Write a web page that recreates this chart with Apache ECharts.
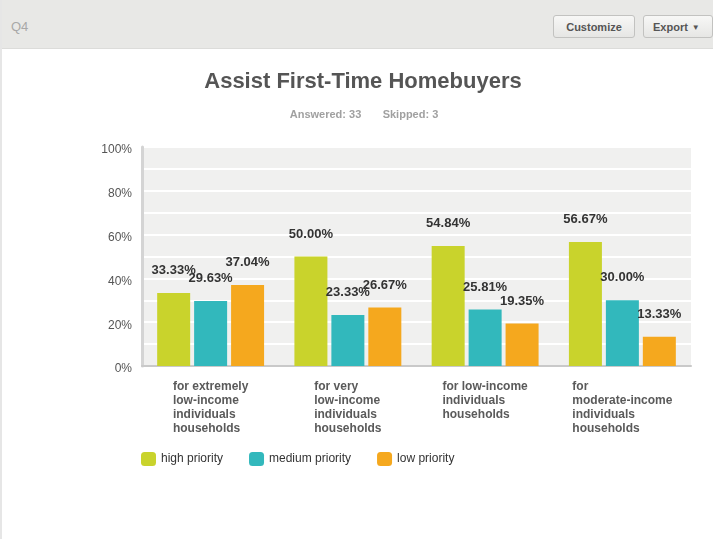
<!DOCTYPE html>
<html>
<head>
<meta charset="utf-8">
<title>Assist First-Time Homebuyers</title>
<script src="https://cdn.jsdelivr.net/npm/echarts@6/dist/echarts.min.js"></script>
<style>
  html, body { margin: 0; padding: 0; background: #fff; }
  .page {
    position: relative;
    width: 713px;
    height: 539px;
    overflow: hidden;
    font-family: Arial, "Liberation Sans", Helvetica, sans-serif;
    box-sizing: border-box;
    border-left: 2px solid #e6e6e6;
  }
  .q-header {
    position: absolute;
    left: 0; top: 0; right: 0;
    height: 48px;
    background: #e8e8e6;
    border-bottom: 1px solid #dcdcda;
  }
  .q-num {
    position: absolute;
    left: 9px; top: 19px;
    font-size: 13px;
    color: #a8a8a8;
  }
  .btn {
    position: absolute;
    top: 15px;
    height: 23px;
    line-height: 22px;
    box-sizing: border-box;
    border: 1px solid #c2c2c0;
    border-radius: 3px;
    background: linear-gradient(#f7f7f6, #e6e6e4);
    font-size: 11px;
    font-weight: bold;
    color: #555;
    text-align: center;
  }
  .btn-customize { left: 551px; width: 82px; }
  .btn-export { left: 641px; width: 70px; text-align: left; padding-left: 9px; }
  .caret { font-size: 8px; margin-left: 4px; position: relative; top: -1px; }
  .chart-content {
    position: absolute;
    left: 0; top: 48px;
    width: 711px;
    height: 491px;
  }
</style>
</head>
<body>
<div class="page">
  <div class="q-header">
    <div class="q-num">Q4</div>
    <div class="btn btn-customize">Customize</div>
    <div class="btn btn-export">Export<span class="caret">&#9660;</span></div>
  </div>
  <div id="chart" class="chart-content"></div>
</div>

<script>
const categories = [
  'for extremely\nlow-income\nindividuals\nhouseholds',
  'for very\nlow-income\nindividuals\nhouseholds',
  'for low-income\nindividuals\nhouseholds',
  'for\nmoderate-income\nindividuals\nhouseholds'
]
const seriesNames = ['high priority', 'medium priority', 'low priority']
const highPriority = [33.33, 50.00, 54.84, 56.67]
const mediumPriority = [29.63, 23.33, 25.81, 30.00]
const lowPriority = [37.04, 26.67, 19.35, 13.33]
const yTicks = [0, 20, 40, 60, 80, 100]

const colors = ['#c9d32c', '#32b8bc', '#f5a81e']
const fontFamily = 'Arial, "Liberation Sans", Helvetica, sans-serif'

const chart = echarts.init(document.getElementById('chart'))

const makeSeries = (name, data, color) => ({
  name: name,
  type: 'bar',
  data: data,
  barWidth: 33,
  barGap: '12%',
  itemStyle: { color: color },
  label: {
    show: true,
    position: 'top',
    distance: 16,
    formatter: p => p.value.toFixed(2) + '%',
    fontFamily: fontFamily,
    fontSize: 13,
    fontWeight: 'bold',
    color: '#333'
  }
})

const option = {
  animation: false,
  title: [
    {
      text: 'Assist First-Time Homebuyers',
      left: 361,
      top: 23,
      textAlign: 'center',
      padding: 0,
      textStyle: { fontFamily: fontFamily, fontSize: 22, fontWeight: 'bold', color: '#555' }
    },
    {
      text: 'Answered: 33       Skipped: 3',
      left: 362,
      top: 61,
      textAlign: 'center',
      padding: 0,
      textStyle: { fontFamily: fontFamily, fontSize: 11, fontWeight: 'bold', color: '#a0a0a0' }
    }
  ],
  legend: {
    data: seriesNames,
    left: 139,
    top: 404,
    padding: 0,
    itemWidth: 15,
    itemHeight: 14,
    itemGap: 26,
    icon: 'roundRect',
    textStyle: { fontFamily: fontFamily, fontSize: 12, color: '#333' }
  },
  grid: {
    left: 140,
    right: 22,
    top: 99,
    bottom: 173,
    show: true,
    backgroundColor: '#f0f0ef',
    borderWidth: 0
  },
  xAxis: {
    type: 'category',
    data: categories,
    axisTick: { show: false },
    axisLine: { lineStyle: { color: '#c9c9c9', width: 2 } },
    axisLabel: {
      interval: 0,
      margin: 14,
      formatter: v => v.split('\n').map(l => '{a|' + l + '}').join('\n'),
      rich: {
        a: {
          align: 'left',
          fontFamily: fontFamily,
          fontSize: 12,
          fontWeight: 'bold',
          color: '#5a5a5a',
          lineHeight: 14
        }
      }
    }
  },
  yAxis: {
    type: 'value',
    min: 0,
    max: 100,
    interval: 10,
    axisLine: { show: true, lineStyle: { color: '#d4d4d4', width: 3 } },
    axisTick: { show: false },
    splitLine: { lineStyle: { color: '#ffffff', width: 2 } },
    axisLabel: {
      margin: 10,
      verticalAlign: 'top',
      lineHeight: 6,
      fontFamily: fontFamily,
      fontSize: 12,
      color: '#555',
      formatter: v => (yTicks.indexOf(v) >= 0 ? v + '%' : '')
    }
  },
  series: [
    makeSeries(seriesNames[0], highPriority, colors[0]),
    makeSeries(seriesNames[1], mediumPriority, colors[1]),
    makeSeries(seriesNames[2], lowPriority, colors[2])
  ]
}

chart.setOption(option)
</script>
</body>
</html>
